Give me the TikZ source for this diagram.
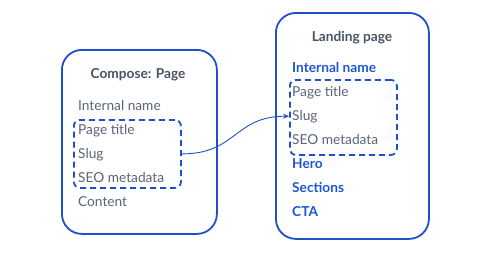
\documentclass[tikz,border=0pt]{standalone}
\usepackage{fontspec}
\setmainfont{Lato}
\usetikzlibrary{arrows.meta,fit}
\definecolor{cblue}{HTML}{1F4FC9}
\definecolor{ctext}{HTML}{5A6478}
\definecolor{chead}{HTML}{4A5366}
\definecolor{cbtext}{HTML}{1F56D6}
\begin{document}
\begin{tikzpicture}[x=1bp,y=-1bp,
  card/.style={draw=cblue,line width=1.8bp,rounded corners=20bp},
  grp/.style={draw=cblue,line width=1.8bp,dash pattern=on 6bp off 4bp,rounded corners=6bp},
  item/.style={anchor=base west,inner sep=0pt,text=ctext,font=\fontsize{13.7bp}{15bp}\selectfont},
  bitem/.style={item,text=cbtext,font=\fontsize{13.7bp}{15bp}\selectfont\bfseries},
  head/.style={anchor=base,inner sep=0pt,text=chead,font=\fontsize{13.7bp}{15bp}\selectfont\bfseries}]
\useasboundingbox (0,0) rectangle (501,270);
% left card
\node[card,minimum width=155bp,minimum height=184bp,anchor=north west] (lcard) at (61,49) {};
\node[head] (lhead) at (138,78) {Compose: Page};
\node[item] (lin) at (78,110) {Internal name};
\node[item] (lpt) at (78,134) {Page title};
\node[item] (lsl) at (78,158) {Slug};
\node[item] (lseo) at (78,182) {SEO metadata};
\node[item] (lco) at (78,206) {Content};
\node[grp,minimum width=107bp,minimum height=68bp,anchor=north west] (ldash) at (73,119) {};
% right card
\node[card,minimum width=153bp,minimum height=226bp,anchor=north west] (rcard) at (275,12) {};
\node[head] (rhead) at (352,41) {Landing page};
\node[bitem] (rin) at (292,72) {Internal name};
\node[item] (rpt) at (292,96) {Page title};
\node[item] (rsl) at (292,120) {Slug};
\node[item] (rseo) at (292,144) {SEO metadata};
\node[bitem] (rhe) at (292,168) {Hero};
\node[bitem] (rse) at (292,192) {Sections};
\node[bitem] (rcta) at (292,216) {CTA};
\node[grp,minimum width=107bp,minimum height=75bp,anchor=north west] (rdash) at (289,79) {};
% connector
\coordinate (tip) at ([xshift=-3bp]rsl.west);
\draw[cblue,line width=0.9bp,-{Stealth[length=6bp,width=5bp]}] (ldash.east) .. controls +(55,0) and +(-55,0) .. (tip);
\end{tikzpicture}
\end{document}
